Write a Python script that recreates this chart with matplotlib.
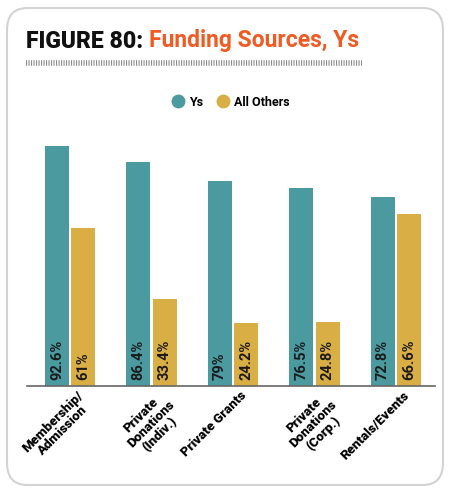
import matplotlib.pyplot as plt
import numpy as np
from matplotlib.patches import FancyBboxPatch
from matplotlib.lines import Line2D

categories = ["Membership/\nAdmission", "Private\nDonations\n(Indiv.)", "Private Grants",
              "Private\nDonations\n(Corp.)", "Rentals/Events"]
ys = [92.6, 86.4, 79, 76.5, 72.8]
others = [61, 33.4, 24.2, 24.8, 66.6]
ys_labels = ["92.6%", "86.4%", "79%", "76.5%", "72.8%"]
others_labels = ["61%", "33.4%", "24.2%", "24.8%", "66.6%"]

teal = "#4A9A9F"
gold = "#D8AE45"
orange = "#F15A22"

plt.rcParams['font.family'] = ['Roboto', 'DejaVu Sans']

W, H = 450, 494
fig = plt.figure(figsize=(W / 100, H / 100), dpi=100)

# card background
card = FancyBboxPatch((7 / W, 1 - 485 / H), 436 / W, 477 / H,
                      boxstyle="round,pad=0,rounding_size=0.045",
                      transform=fig.transFigure, facecolor="white",
                      edgecolor="#d3d3d3", linewidth=1.5, zorder=-10)
fig.add_artist(card)

# title
t1 = fig.text(26 / W, 1 - 41 / H, "FIGURE 80: ", fontsize=16.5, fontweight=900,
              color="#111111", va="center", ha="left")
fig.canvas.draw()
bb = t1.get_window_extent()
fig.text(bb.x1 / W, 1 - 41 / H, "Funding Sources, Ys", fontsize=16.5,
         fontweight="bold", color=orange, va="center", ha="left")

# dotted rule under title
fig.add_artist(Line2D([26 / W, 362 / W], [1 - 63 / H, 1 - 63 / H],
                      transform=fig.transFigure, color="#8a8a8a", linewidth=4,
                      linestyle=(0, (0.2, 0.25)), dash_capstyle="butt"))

ax = fig.add_axes([27 / W, 108 / H, 408 / W, 259 / H])
x = np.arange(len(categories))
w = 0.295
off = 0.16
b1 = ax.bar(x - off, ys, w, color=teal, label="Ys")
b2 = ax.bar(x + off, others, w, color=gold, label="All Others")

for rect, lab in zip(b1, ys_labels):
    ax.text(rect.get_x() + rect.get_width() / 2, 2.5, lab, rotation=90,
            ha="center", va="bottom", fontsize=10.5, fontweight="bold", color="#1a1a1a")
for rect, lab in zip(b2, others_labels):
    ax.text(rect.get_x() + rect.get_width() / 2, 2.5, lab, rotation=90,
            ha="center", va="bottom", fontsize=10.5, fontweight="bold", color="#1a1a1a")

ax.set_ylim(0, 100)
ax.set_xlim(-0.528, 4.479)
ax.set_yticks([])
ax.set_xticks(x + 0.08)
ax.set_xticklabels(categories, rotation=45, ha="right", rotation_mode="anchor",
                   fontsize=9.5, fontweight="heavy", multialignment="center",
                   linespacing=1.05)
ax.tick_params(axis="x", length=0, pad=2)
for s in ["top", "right", "left"]:
    ax.spines[s].set_visible(False)
ax.spines["bottom"].set_color("#666666")
ax.spines["bottom"].set_linewidth(1.2)
ax.patch.set_alpha(0)

handles = [Line2D([], [], marker="o", linestyle="", markersize=9, color=teal),
           Line2D([], [], marker="o", linestyle="", markersize=9, color=gold)]
leg = fig.legend(handles, ["Ys", "All Others"], loc="center",
                 bbox_to_anchor=(230 / W, 1 - 102 / H), ncol=2, frameon=False,
                 handletextpad=0.3, columnspacing=1.0, handlelength=1.2,
                 prop={"weight": "bold", "size": 9})

fig.savefig("out.png", dpi=100)
